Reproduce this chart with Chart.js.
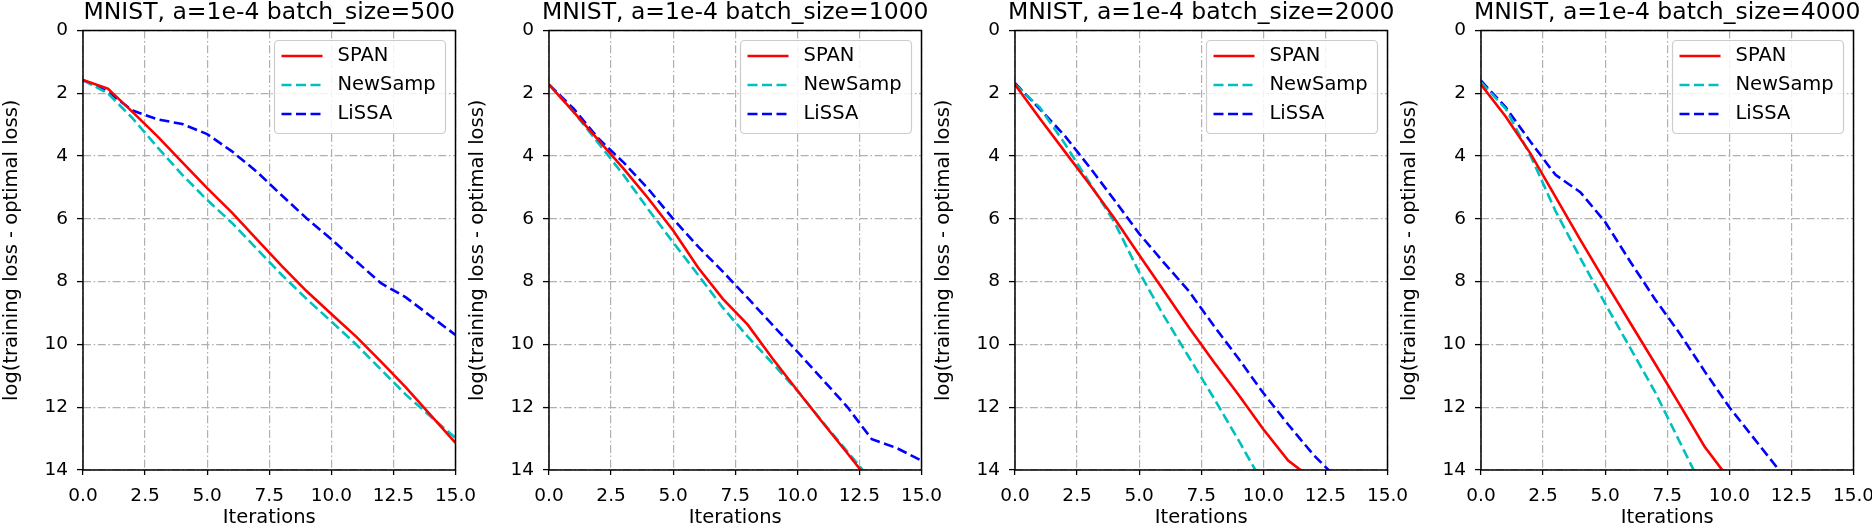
<!DOCTYPE html>
<html>
<head>
<meta charset="utf-8">
<script src="https://cdn.jsdelivr.net/npm/chart.js@4/dist/chart.umd.min.js"></script>
<style>
  html, body { margin: 0; padding: 0; background: #ffffff; }
  body { width: 1872px; height: 528px; position: relative; overflow: hidden; }
  .panel { position: absolute; top: 0; }
</style>
</head>
<body>
<canvas class="panel" id="c0" width="495" height="528" style="left:0px"></canvas>
<canvas class="panel" id="c1" width="495" height="528" style="left:466px"></canvas>
<canvas class="panel" id="c2" width="495" height="528" style="left:932px"></canvas>
<canvas class="panel" id="c3" width="495" height="528" style="left:1398px"></canvas>
<script>
// ---- data ----
const iterations = [0, 1, 2, 3, 4, 5, 6, 7, 8, 9, 10, 11, 12, 13, 14, 15];
const xTickValues = [0, 2.5, 5, 7.5, 10, 12.5, 15];
const yTickValues = [0, 2, 4, 6, 8, 10, 12, 14];
const seriesNames = ['SPAN', 'NewSamp', 'LiSSA'];
const panelTitles = [
  'MNIST, a=1e-4 batch_size=500',
  'MNIST, a=1e-4 batch_size=1000',
  'MNIST, a=1e-4 batch_size=2000',
  'MNIST, a=1e-4 batch_size=4000'
];
const xAxisLabel = 'Iterations';
const yAxisLabel = 'log(training loss - optimal loss)';

// batch_size = 500
const span500    = [1.58, 1.85, 2.60, 3.37, 4.20, 5.02, 5.80, 6.65, 7.50, 8.30, 9.03, 9.75, 10.55, 11.37, 12.25, 13.14];
const newsamp500 = [1.58, 2.00, 2.80, 3.72, 4.60, 5.40, 6.13, 6.96, 7.78, 8.55, 9.27, 10.00, 10.80, 11.60, 12.30, 12.98];
const lissa500   = [1.58, 1.95, 2.55, 2.83, 2.98, 3.30, 3.85, 4.50, 5.25, 5.98, 6.65, 7.35, 8.05, 8.50, 9.10, 9.70];
// batch_size = 1000
const span1000    = [1.72, 2.60, 3.50, 4.40, 5.35, 6.37, 7.55, 8.55, 9.37, 10.45, 11.47, 12.47, 13.45, 14.45, 15.45, 16.45];
const newsamp1000 = [1.72, 2.60, 3.60, 4.60, 5.70, 6.75, 7.78, 8.83, 9.75, 10.60, 11.47, 12.45, 13.40, 14.35, 15.30, 16.25];
const lissa1000   = [1.72, 2.50, 3.45, 4.20, 5.05, 6.00, 6.88, 7.68, 8.52, 9.38, 10.23, 11.10, 11.98, 13.02, 13.30, 13.70];
// batch_size = 2000
const span2000    = [1.72, 2.80, 3.85, 4.90, 5.98, 7.15, 8.30, 9.45, 10.55, 11.60, 12.70, 13.70, 14.30, 15.30, 16.30, 17.30];
const newsamp2000 = [1.72, 2.45, 3.60, 4.85, 6.10, 7.70, 9.10, 10.40, 11.70, 13.05, 14.45, 15.85, 17.25, 18.65, 20.05, 21.45];
const lissa2000   = [1.68, 2.50, 3.35, 4.35, 5.40, 6.47, 7.40, 8.30, 9.40, 10.45, 11.55, 12.55, 13.50, 14.30, 15.20, 16.10];
// batch_size = 4000
const span4000    = [1.72, 2.75, 3.93, 5.30, 6.67, 8.00, 9.30, 10.60, 11.92, 13.25, 14.30, 15.40, 16.50, 17.60, 18.70, 19.80];
const newsamp4000 = [1.65, 2.50, 4.00, 5.75, 7.25, 8.70, 10.10, 11.50, 13.10, 14.70, 16.30, 17.90, 19.50, 21.10, 22.70, 24.30];
const lissa4000   = [1.60, 2.45, 3.55, 4.60, 5.15, 6.10, 7.35, 8.55, 9.65, 10.85, 12.00, 13.00, 14.00, 15.00, 16.00, 17.00];

const panelSeries = [
  [span500, newsamp500, lissa500],
  [span1000, newsamp1000, lissa1000],
  [span2000, newsamp2000, lissa2000],
  [span4000, newsamp4000, lissa4000]
];

// ---- styles ----
const FONT = "'DejaVu Sans', 'Liberation Sans', sans-serif";
const seriesStyles = [
  { borderColor: '#ff0000', borderDash: [] },
  { borderColor: '#00bfbf', borderDash: [10, 4.5] },
  { borderColor: '#0000ff', borderDash: [10, 4.5] }
];
const GRID_DASH = [8, 2.6, 1.6, 2.6];
const PLOT_WIDTH = 372.5;
const Y_AXIS_WIDTH = 83;
const PLOT_TOP = 30.5;
const X_AXIS_HEIGHT = 58;

const framePlugin = {
  id: 'frame',
  afterDatasetsDraw(chart) {
    const { ctx, chartArea: a } = chart;
    ctx.save();
    ctx.strokeStyle = '#000000';
    ctx.lineWidth = 1.5;
    ctx.setLineDash([]);
    ctx.strokeRect(a.left, a.top, a.right - a.left, a.bottom - a.top);
    ctx.restore();
  }
};

const titlePlugin = {
  id: 'panelTitle',
  afterDraw(chart) {
    const { ctx, chartArea: a } = chart;
    ctx.save();
    ctx.font = `23.5px ${FONT}`;
    ctx.fillStyle = '#000000';
    ctx.textAlign = 'center';
    ctx.textBaseline = 'middle';
    ctx.fillText(chart.options.plugins.panelTitle.text, (a.left + a.right) / 2, 13);
    ctx.restore();
  }
};

const legendPlugin = {
  id: 'innerLegend',
  afterDraw(chart) {
    const { ctx, chartArea: a } = chart;
    const w = 171, h = 93;
    const x = a.right - 181, y = a.top + 10;
    ctx.save();
    ctx.beginPath();
    if (ctx.roundRect) ctx.roundRect(x, y, w, h, 4); else ctx.rect(x, y, w, h);
    ctx.fillStyle = 'rgba(255,255,255,0.85)';
    ctx.fill();
    ctx.strokeStyle = '#cccccc';
    ctx.lineWidth = 1.2;
    ctx.stroke();
    chart.data.datasets.forEach((ds, i) => {
      const cy = y + 15.5 + i * 29;
      ctx.beginPath();
      ctx.setLineDash(ds.borderDash || []);
      ctx.strokeStyle = ds.borderColor;
      ctx.lineWidth = ds.borderWidth;
      ctx.moveTo(x + 7, cy);
      ctx.lineTo(x + 48, cy);
      ctx.stroke();
      ctx.setLineDash([]);
      ctx.font = `19.5px ${FONT}`;
      ctx.fillStyle = '#000000';
      ctx.textAlign = 'left';
      ctx.textBaseline = 'middle';
      ctx.fillText(ds.label, x + 63, cy);
    });
    ctx.restore();
  }
};

function axisCommon(tickValues, fmt) {
  return {
    type: 'linear',
    afterBuildTicks: s => { s.ticks = tickValues.map(v => ({ value: v })); },
    grid: {
      color: '#b0b0b0',
      lineWidth: 1.2,
      drawTicks: true,
      tickLength: 5,
      tickColor: '#000000',
      tickWidth: 1.3,
      tickBorderDash: []
    },
    border: { display: false, dash: GRID_DASH },
    ticks: {
      color: '#000000',
      font: { family: FONT, size: 18.5 },
      autoSkip: false,
      maxRotation: 0,
      callback: v => fmt(v)
    }
  };
}

panelSeries.forEach((series, p) => {
  const canvas = document.getElementById('c' + p);
  const rightPad = canvas.width - Y_AXIS_WIDTH - PLOT_WIDTH;
  const datasets = series.map((vals, k) => ({
    label: seriesNames[k],
    data: iterations.map((x, j) => ({ x: x, y: vals[j] })),
    borderColor: seriesStyles[k].borderColor,
    borderDash: seriesStyles[k].borderDash,
    borderWidth: 2.6,
    pointRadius: 0,
    fill: false,
    tension: 0
  }));

  const xAxis = axisCommon(xTickValues, v => Number(v).toFixed(1));
  xAxis.min = 0; xAxis.max = 15;
  xAxis.ticks.padding = 10.5;
  xAxis.title = { display: true, text: xAxisLabel, color: '#000000', font: { family: FONT, size: 19.5, lineHeight: 1 }, padding: { top: 0, bottom: 0 } };
  xAxis.afterFit = s => { s.height = X_AXIS_HEIGHT; };

  const yAxis = axisCommon(yTickValues, v => String(v));
  yAxis.min = 0; yAxis.max = 14; yAxis.reverse = true;
  yAxis.grid.tickLength = 6;
  yAxis.ticks.padding = 9;
  yAxis.title = { display: true, text: yAxisLabel, color: '#000000', font: { family: FONT, size: 19.5 }, padding: { top: 0, bottom: 0 } };
  yAxis.afterFit = s => { s.width = Y_AXIS_WIDTH; };

  new Chart(canvas, {
    type: 'line',
    data: { datasets },
    options: {
      responsive: false,
      animation: false,
      devicePixelRatio: 1,
      layout: { padding: { top: PLOT_TOP, right: rightPad, left: 0, bottom: 0 } },
      plugins: {
        legend: { display: false },
        tooltip: { enabled: false },
        title: { display: false },
        panelTitle: { text: panelTitles[p] }
      },
      scales: { x: xAxis, y: yAxis }
    },
    plugins: [framePlugin, titlePlugin, legendPlugin]
  });
});
</script>
</body>
</html>
